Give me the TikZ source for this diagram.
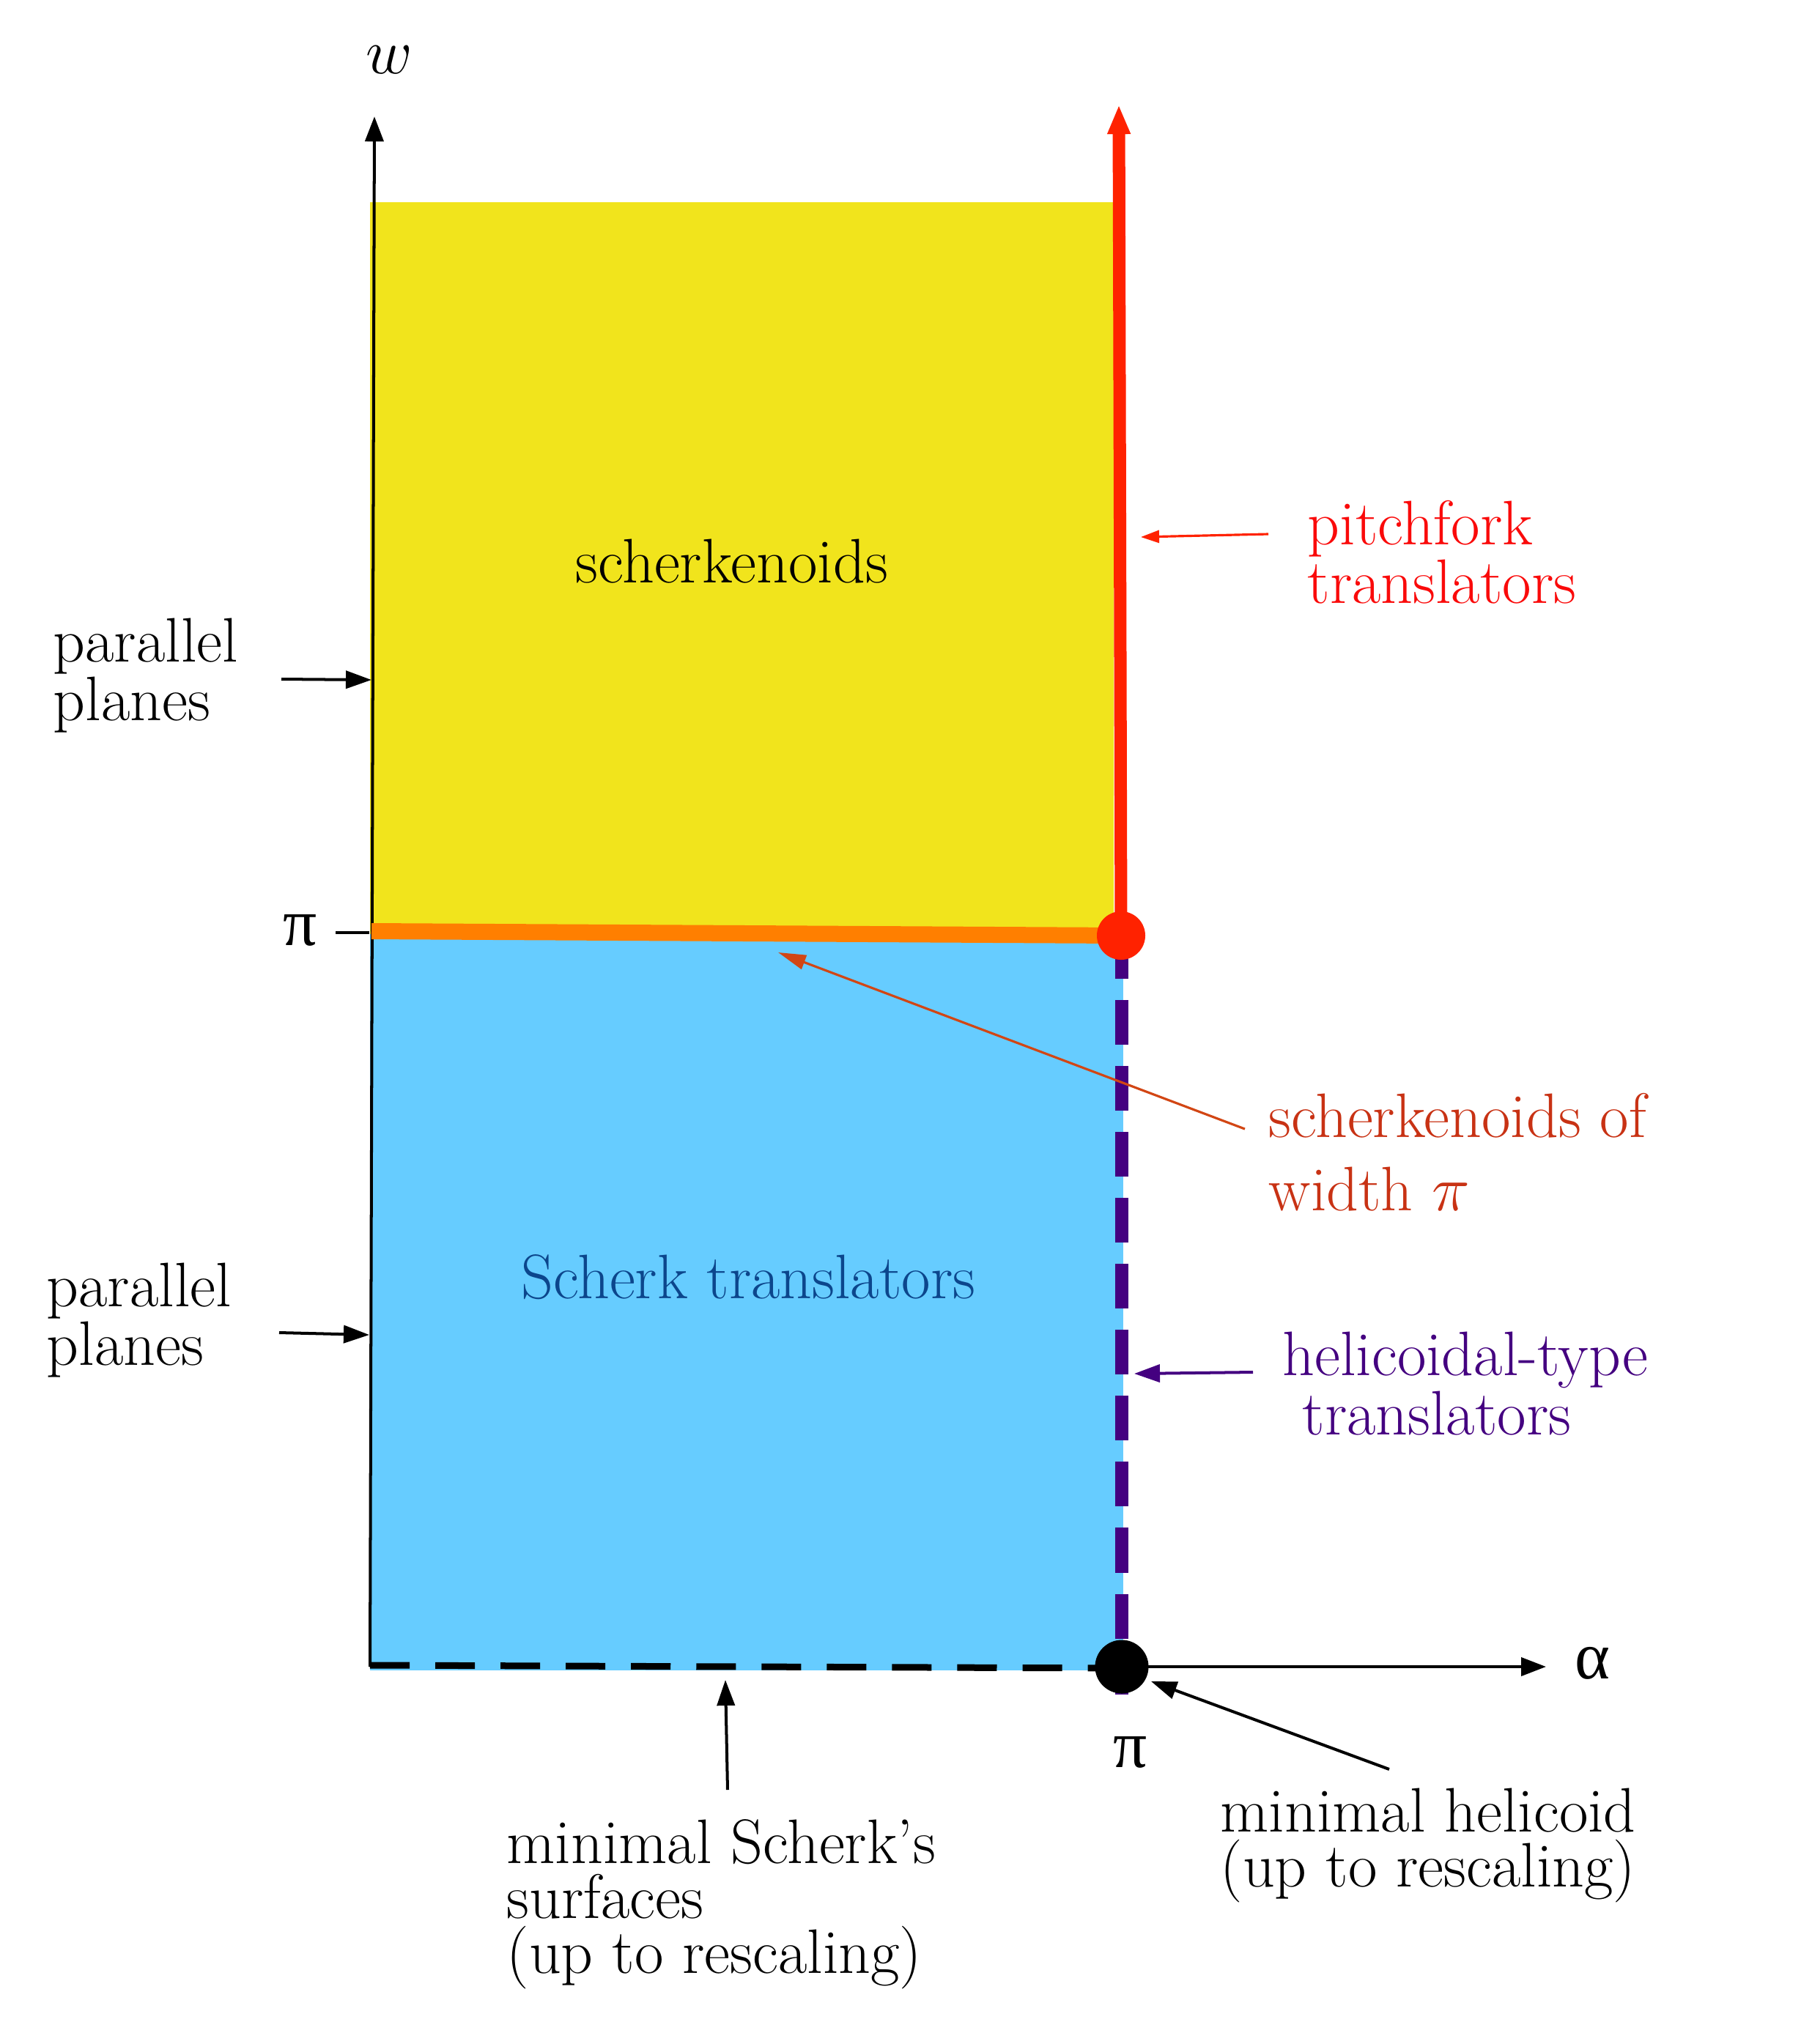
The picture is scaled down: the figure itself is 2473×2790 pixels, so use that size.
\documentclass[tikz,border=0pt]{standalone}
\usepackage{fontspec}
\newfontfamily\grk{Liberation Serif}
\usetikzlibrary{arrows.meta}
\definecolor{yel}{RGB}{241,228,28}
\definecolor{blu}{RGB}{102,204,255}
\definecolor{org}{RGB}{255,127,0}
\definecolor{rd}{RGB}{255,34,0}
\definecolor{prp}{RGB}{68,0,128}
\definecolor{sow}{RGB}{200,50,20}
\definecolor{sowarr}{RGB}{210,70,20}
\definecolor{stxt}{RGB}{12,70,140}
\definecolor{ptxt}{RGB}{250,10,10}
\begin{document}
\begin{tikzpicture}[x=0.01cm,y=-0.01cm,
  lbl/.style={inner sep=0pt, anchor=base west, align=left, font=\fontsize{24.4}{21.3}\selectfont},
  axis/.style={line width=1.14pt, -{Triangle[length=0.34cm,width=0.25cm]}},
  ann/.style={line width=1.14pt, -{Triangle[length=0.35cm,width=0.24cm]}},
  dotnode/.style={circle, inner sep=0pt, minimum size=#1},
  glab/.style={inner sep=0pt, font=\fontsize{26}{26}\selectfont\grk}]
\useasboundingbox (0,0) rectangle (2473,2790);
% regions
\fill[yel] (505,276) rectangle (1520,1275);
\fill[blu] (505,1275) rectangle (1533,2280);
% points
\coordinate (O) at (505,2275);
\coordinate (wtip) at (511,159);
\coordinate (Pl) at (507,1271);
\coordinate (Pr) at (1530,1277);
\coordinate (redtip) at (1527,143);
\coordinate (Ab) at (1531,2275);
\coordinate (atip) at (2110,2275);
\coordinate (purpTop) at (1531,1275);
\coordinate (purpBot) at (1531,2313);
\coordinate (dashL) at (505,2273);
\coordinate (dashR) at (1530,2277);
\coordinate (tickL) at (458,1273);
\coordinate (tickR) at (504,1273);
% axes
\draw[axis] (O) -- (wtip);
\draw[line width=1.14pt] (tickL) -- (tickR);
% special lines
\draw[org, line width=6.26pt] (Pl) -- (Pr);
\draw[rd, line width=4.84pt, -{Triangle[length=0.4cm,width=0.29cm]}] (Pr) -- (redtip);
\draw[prp, line width=5.12pt, dash pattern=on 0.61cm off 0.29cm] (purpTop) -- (purpBot);
\draw[black, line width=2.56pt, dash pattern=on 0.54cm off 0.35cm] (dashL) -- (dashR);
\node[dotnode=0.73cm, fill=black] (bdot) at (Ab) {};
\draw[axis] (bdot.center) -- (atip);
\node[dotnode=0.66cm, fill=rd] (rdot) at (Pr) {};
% axis labels
\node[inner sep=0pt, font=\fontsize{24.4}{24}\selectfont] (wlab) at (531,82) {$w$};
\node[glab] (alab) at (2173,2270) {α};
\node[glab] (piL) at (410,1270) {π};
\node[glab] (piB) at (1543,2392) {π};
% region labels
\node[lbl] (scherk) at (785,795) {scherkenoids};
\node[lbl, text=stxt] (strans) at (711,1772) {Scherk translators};
% side labels (anchor at baseline of last line)
\node[lbl] (pp1) at (72,983) {parallel\\planes};
\node[lbl] (pp2) at (63,1863) {parallel\\planes};
\node[lbl, text=ptxt] (pitch) at (1784,823) {pitchfork\\translators};
\node[lbl, text=sow, font=\fontsize{24.4}{28.2}\selectfont] (sowl) at (1731,1652) {scherkenoids of\\width $\pi$};
\node[lbl, text=prp] (hel) at (1750,1958) {helicoidal-type\\\hspace*{0.27cm}translators};
\node[lbl] (mh) at (1665,2575) {minimal helicoid\\(up to rescaling)};
\node[lbl] (ms) at (691,2693) {minimal Scherk's\\surfaces\\(up to rescaling)};
% annotation arrows
\coordinate (pp1s) at (384,927); \coordinate (pp1e) at (507,928);
\coordinate (pp2s) at (381,1819); \coordinate (pp2e) at (504,1822);
\coordinate (pits) at (1731,729); \coordinate (pite) at (1557,733);
\coordinate (sows) at (1699,1541); \coordinate (sowe) at (1062,1300);
\coordinate (hels) at (1710,1873); \coordinate (hele) at (1548,1875);
\coordinate (mhs) at (1896,2415); \coordinate (mhe) at (1571,2295);
\coordinate (mss) at (993,2443); \coordinate (mse) at (990,2293);
\draw[ann] (pp1s) -- (pp1e);
\draw[ann] (pp2s) -- (pp2e);
\draw[ann, rd, line width=0.9pt, -{Triangle[length=0.25cm,width=0.17cm]}] (pits) -- (pite);
\draw[ann, sowarr, line width=0.9pt, -{Triangle[length=0.38cm,width=0.2cm]}] (sows) -- (sowe);
\draw[ann, prp] (hels) -- (hele);
\draw[ann] (mhs) -- (mhe);
\draw[ann] (mss) -- (mse);
\end{tikzpicture}
\end{document}
